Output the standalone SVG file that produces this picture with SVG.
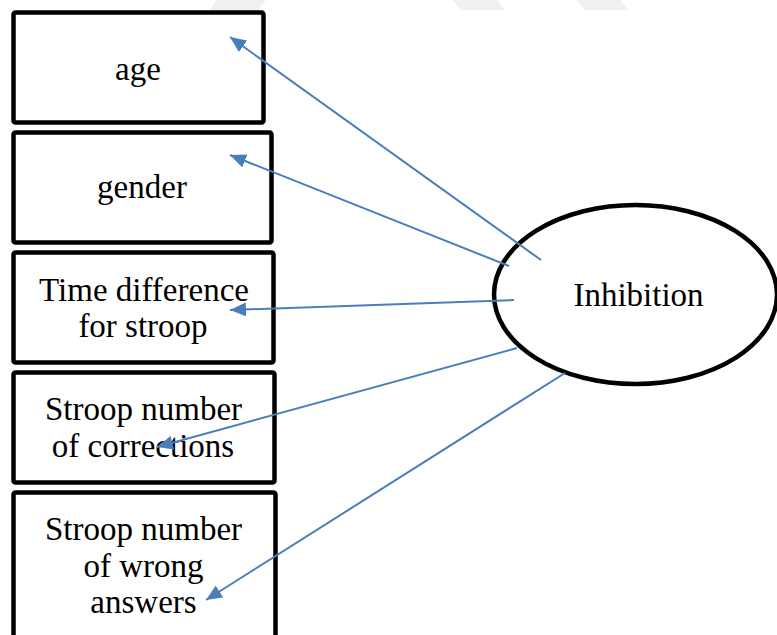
<svg xmlns="http://www.w3.org/2000/svg" width="777" height="635" viewBox="0 0 777 635">
  <style>
    .box { fill: #ffffff; stroke: #000000; stroke-width: 4.5; }
    .oval { fill: #ffffff; stroke: #000000; stroke-width: 4.5; }
    .label { font-family: "Liberation Serif", "Times New Roman", serif; font-size: 33px; fill: #000000; text-anchor: middle; }
    .link { fill: none; stroke: #4a7ebb; stroke-width: 2; marker-end: url(#head); }
    .mark { fill: #f0f0f0; }
  </style>
  <defs>
    <marker id="head" markerUnits="userSpaceOnUse" markerWidth="18" markerHeight="14" refX="16" refY="7" orient="auto">
      <path d="M0,0 L16,7 L0,14 Z" fill="#4a7ebb"/>
    </marker>
  </defs>

  <rect width="777" height="635" fill="#ffffff"/>

  <!-- faint background marks along the top edge -->
  <g id="background-marks">
    <polygon class="mark" points="216,0 266,0 258,10 210,10"/>
    <polygon class="mark" points="452,0 497,0 504,10 462,10"/>
    <polygon class="mark" points="577,0 620,0 628,10 585,10"/>
  </g>

  <!-- indicator boxes -->
  <g id="node-age">
    <rect class="box" x="13.5" y="12.5" width="250" height="110" rx="2"/>
    <text class="label" x="138" y="80">age</text>
  </g>
  <g id="node-gender">
    <rect class="box" x="13.5" y="132.5" width="258" height="110" rx="2"/>
    <text class="label" x="142" y="198">gender</text>
  </g>
  <g id="node-time-difference">
    <rect class="box" x="13.5" y="252.5" width="260" height="110" rx="2"/>
    <text class="label" x="144" y="301">Time difference</text>
    <text class="label" x="143" y="337">for stroop</text>
  </g>
  <g id="node-corrections">
    <rect class="box" x="13.5" y="372.5" width="261" height="110" rx="2"/>
    <text class="label" x="143.5" y="420">Stroop number</text>
    <text class="label" x="143" y="457">of corrections</text>
  </g>
  <g id="node-wrong-answers">
    <rect class="box" x="13.5" y="492.5" width="262" height="150" rx="2"/>
    <text class="label" x="143.5" y="540">Stroop number</text>
    <text class="label" x="143.5" y="577">of wrong</text>
    <text class="label" x="143.5" y="613">answers</text>
  </g>

  <!-- latent construct -->
  <g id="node-inhibition">
    <ellipse class="oval" cx="635.5" cy="294.5" rx="141.5" ry="89.5"/>
    <text class="label" x="638.5" y="306">Inhibition</text>
  </g>

  <!-- loadings from the construct to each indicator -->
  <g id="connectors">
    <path class="link" d="M541,260 L230,37"/>
    <path class="link" d="M509,266 L230,155"/>
    <path class="link" d="M514,300 L230,310"/>
    <path class="link" d="M517,348 L157,447"/>
    <path class="link" d="M565,373 L206,600"/>
  </g>
</svg>
